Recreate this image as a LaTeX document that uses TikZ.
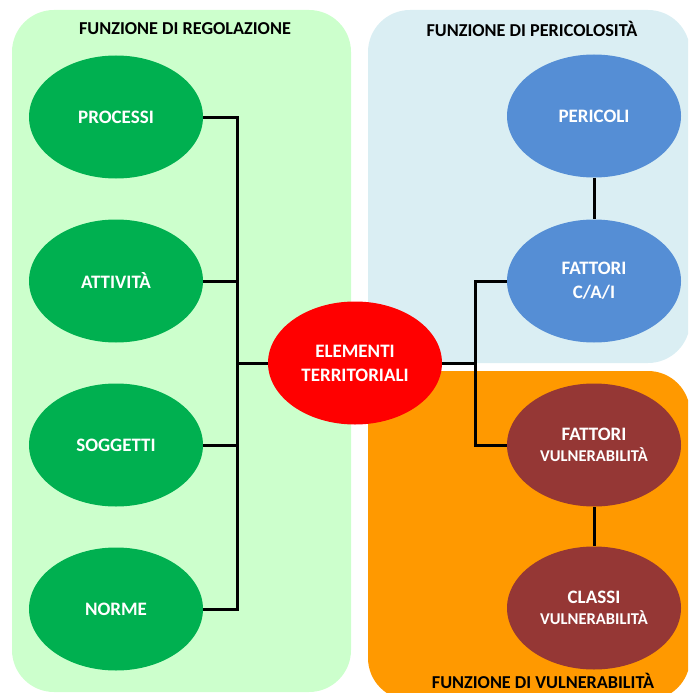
\documentclass[tikz,border=0pt]{standalone}
\usepackage{fontspec}
\setmainfont{Carlito}
\usetikzlibrary{shapes.geometric}

\definecolor{regbg}{HTML}{CCFFCC}
\definecolor{regnode}{HTML}{00B050}
\definecolor{perbg}{HTML}{DAEEF3}
\definecolor{pernode}{HTML}{558ED5}
\definecolor{vulbg}{HTML}{FF9900}
\definecolor{vulnode}{HTML}{953735}
\definecolor{centre}{HTML}{FF0000}

\newcommand{\subline}[1]{{\bfseries\fontsize{16.5}{20}\selectfont #1}}

\tikzset{
  panel/.style={rounded corners=42pt},
  bubble/.style={ellipse, minimum width=174pt, minimum height=123pt, inner sep=0pt,
    text=white, font=\bfseries\fontsize{19}{24}\selectfont, align=center},
  paneltitle/.style={font=\bfseries\fontsize{18.2}{22}\selectfont, text=black},
  conn/.style={line width=3pt, black}
}

\begin{document}
\begin{tikzpicture}[x=1pt, y=-1pt]
  \useasboundingbox (0,0) rectangle (688,693);
  \clip (0,0) rectangle (688,693);

  % background panels
  \fill[regbg, panel] (12,10) rectangle (351,692);
  \fill[perbg, panel] (368,10) rectangle (690,363);
  \fill[vulbg, panel] (368,371) rectangle (690,700);

  % panel titles
  \node[paneltitle] (tReg) at (185,29) {FUNZIONE DI REGOLAZIONE};
  \node[paneltitle] (tPer) at (532,29) {FUNZIONE DI PERICOLOSITÀ};
  \node[paneltitle] (tVul) at (543,681) {FUNZIONE DI VULNERABILITÀ};

  % regulation elements
  \node[bubble, fill=regnode] (processi) at (116,117) {PROCESSI};
  \node[bubble, fill=regnode] (attivita) at (116,281) {ATTIVITÀ};
  \node[bubble, fill=regnode] (soggetti) at (116,445) {SOGGETTI};
  \node[bubble, fill=regnode] (norme) at (116,609) {NORME};

  % central element
  \node[bubble, fill=centre] (elementi) at (355,363) {ELEMENTI\\TERRITORIALI};

  % hazard elements
  \node[bubble, fill=pernode] (pericoli) at (594,116) {PERICOLI};
  \node[bubble, fill=pernode] (fattoriCAI) at (594,281) {FATTORI\\C/A/I};

  % vulnerability elements
  \node[bubble, fill=vulnode] (fattoriV) at (594,445) {FATTORI\\[-3pt]\subline{VULNERABILITÀ}};
  \node[bubble, fill=vulnode] (classi) at (594,608) {CLASSI\\[-3pt]\subline{VULNERABILITÀ}};

  % bus junctions, level with the central element
  \coordinate (busL) at (237,363);
  \coordinate (busR) at (475,363);

  % left tree
  \draw[conn] (processi.east) -| (busL) |- (norme.east);
  \draw[conn] (attivita.east) -- (attivita.east -| busL);
  \draw[conn] (soggetti.east) -- (soggetti.east -| busL);
  \draw[conn] (busL) -- (elementi.west);

  % right tree
  \draw[conn] (elementi.east) -- (busR);
  \draw[conn] (fattoriCAI.west) -| (busR) |- (fattoriV.west);
  \draw[conn] (pericoli.south) -- (fattoriCAI.north);
  \draw[conn] (fattoriV.south) -- (classi.north);
\end{tikzpicture}
\end{document}
